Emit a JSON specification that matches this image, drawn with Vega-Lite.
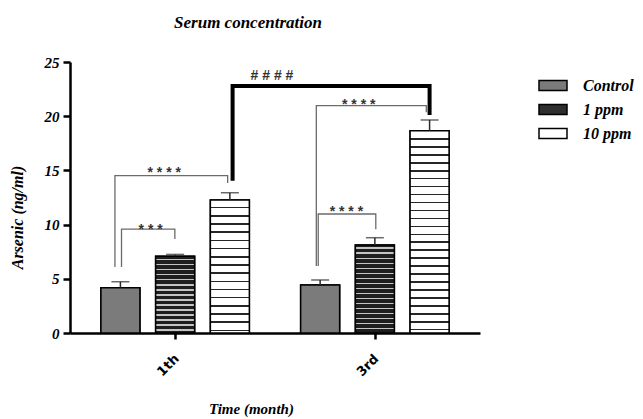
{
  "$schema": "https://vega.github.io/schema/vega-lite/v6.json",
  "width": 410,
  "height": 271,
  "autosize": {"type": "none"},
  "padding": {"left": 70, "top": 62, "right": 163, "bottom": 86},
  "background": "white",
  "title": {"text": "Serum concentration", "font": "Liberation Serif", "fontSize": 17, "fontWeight": "bold", "fontStyle": "italic", "color": "black", "anchor": "middle", "dx": -27, "offset": 10, "baseline": "alphabetic"},
  "config": {"view": {"stroke": null}, "axis": {"grid": false}},
  "datasets": {
    "bars": [
      {"time": "1th", "series": "Control", "pos": 1, "val": 4.18, "upper": 4.73},
      {"time": "1th", "series": "1 ppm", "pos": 2, "val": 7.08, "upper": 7.25},
      {"time": "1th", "series": "10 ppm", "pos": 3, "val": 12.27, "upper": 12.94},
      {"time": "3rd", "series": "Control", "pos": 4.65, "val": 4.43, "upper": 4.89},
      {"time": "3rd", "series": "1 ppm", "pos": 5.65, "val": 8.12, "upper": 8.79},
      {"time": "3rd", "series": "10 ppm", "pos": 6.65, "val": 18.66, "upper": 19.65}
    ],
    "brackets": [
      {"id": "A", "seq": 1, "pos": 1.02, "val": 6.09},
      {"id": "A", "seq": 2, "pos": 1.02, "val": 9.59},
      {"id": "A", "seq": 3, "pos": 1.995, "val": 9.59},
      {"id": "A", "seq": 4, "pos": 1.995, "val": 8.67},
      {"id": "B", "seq": 1, "pos": 0.9, "val": 6.09},
      {"id": "B", "seq": 2, "pos": 0.9, "val": 14.51},
      {"id": "B", "seq": 3, "pos": 2.96, "val": 14.51},
      {"id": "B", "seq": 4, "pos": 2.96, "val": 13.84},
      {"id": "C", "seq": 1, "pos": 4.615, "val": 6.18},
      {"id": "C", "seq": 2, "pos": 4.615, "val": 10.98},
      {"id": "C", "seq": 3, "pos": 5.667, "val": 10.98},
      {"id": "C", "seq": 4, "pos": 5.667, "val": 9.57},
      {"id": "D", "seq": 1, "pos": 4.58, "val": 6.18},
      {"id": "D", "seq": 2, "pos": 4.58, "val": 20.97},
      {"id": "D", "seq": 3, "pos": 6.59, "val": 20.97},
      {"id": "D", "seq": 4, "pos": 6.59, "val": 20.36},
      {"id": "E", "seq": 1, "pos": 3.05, "val": 14.05},
      {"id": "E", "seq": 2, "pos": 3.05, "val": 22.79},
      {"id": "E", "seq": 3, "pos": 6.65, "val": 22.79},
      {"id": "E", "seq": 4, "pos": 6.65, "val": 20.11}
    ],
    "labels": [
      {"label": "* * *", "pos": 1.553, "val": 9.12},
      {"label": "* * * *", "pos": 1.8, "val": 14.41},
      {"label": "* * * *", "pos": 5.13, "val": 10.75},
      {"label": "* * * *", "pos": 5.355, "val": 20.67},
      {"label": "# # # #", "pos": 3.77, "val": 23.36}
    ]
  },
  "layer": [
    {
      "data": {"name": "bars"},
      "mark": {"type": "bar", "size": 39, "stroke": "black", "strokeWidth": 1.5},
      "encoding": {
        "x": {"field": "pos", "type": "quantitative",
          "scale": {"domain": [0.17, 7.48], "nice": false, "zero": false},
          "axis": {"title": "Time (month)", "values": [2, 5.65], "labelExpr": "datum.value < 3 ? '1th' : '3rd'", "labelAngle": -45, "labelFont": "DejaVu Sans", "labelFontSize": 13, "labelFontWeight": "bold", "labelColor": "black", "labelPadding": 13, "labelOffset": -3, "tickSize": 6, "tickWidth": 2.5, "tickColor": "black", "domainWidth": 2.5, "domainColor": "black", "titleFont": "Liberation Serif", "titleFontSize": 15, "titleFontWeight": "bold", "titleFontStyle": "italic", "titleColor": "black", "titleX": 181, "titleY": 80, "titleBaseline": "alphabetic", "titleAlign": "center"}},
        "y": {"field": "val", "type": "quantitative",
          "scale": {"domain": [0, 25], "nice": false},
          "axis": {"title": "Arsenic (ng/ml)", "values": [0, 5, 10, 15, 20, 25], "domainColor": "black", "domainWidth": 2.5, "tickColor": "black", "tickWidth": 2.5, "tickSize": 7, "labelFont": "Liberation Serif", "labelFontSize": 15, "labelFontWeight": "bold", "labelFontStyle": "italic", "labelColor": "black", "labelPadding": 4, "titleFont": "Liberation Serif", "titleFontSize": 16, "titleFontWeight": "bold", "titleFontStyle": "italic", "titleColor": "black", "titleX": -53, "titleY": 155, "titleBaseline": "middle", "titleAlign": "center", "titleAngle": 270}},
        "fill": {"field": "series", "type": "nominal",
          "scale": {"domain": ["Control", "1 ppm", "10 ppm"], "range": ["#7b7b7b", "#2e2e2e", "#ffffff"]},
          "legend": {"orient": "none", "legendX": 468, "legendY": 8.5, "title": null, "padding": 0, "symbolType": "M-1,-0.36H1V0.36H-1Z", "symbolSize": 784, "symbolStrokeColor": "black", "symbolStrokeWidth": 1.5, "symbolOpacity": 1, "labelFont": "Liberation Serif", "labelFontSize": 16, "labelFontWeight": "bold", "labelFontStyle": "italic", "labelColor": "black", "labelOffset": 15, "rowPadding": -1,
            "encode": {"symbols": {"update": {
              "stroke": {"value": "black"},
              "strokeWidth": {"value": 1.5},
              "opacity": {"value": 1}
            }}}
          }}
      }
    },
    {
      "data": {"name": "bars"},
      "mark": {"type": "bar", "size": 39, "stroke": "black", "strokeWidth": 1.5},
      "encoding": {
        "x": {"field": "pos", "type": "quantitative"},
        "y": {"field": "val", "type": "quantitative"},
        "fill": {
          "condition": [
            {"test": "datum.series === '10 ppm' && datum.time === '1th'", "value": {"gradient": "linear", "x1": 0, "y1": 0, "x2": 0, "y2": 1, "stops": [
              {"offset": 0, "color": "#ffffff"},
              {"offset": 0.0518, "color": "#ffffff"}, {"offset": 0.0518, "color": "#262626"}, {"offset": 0.0638, "color": "#262626"}, {"offset": 0.0638, "color": "#ffffff"},
              {"offset": 0.1133, "color": "#ffffff"}, {"offset": 0.1133, "color": "#262626"}, {"offset": 0.1253, "color": "#262626"}, {"offset": 0.1253, "color": "#ffffff"},
              {"offset": 0.1748, "color": "#ffffff"}, {"offset": 0.1748, "color": "#262626"}, {"offset": 0.1868, "color": "#262626"}, {"offset": 0.1868, "color": "#ffffff"},
              {"offset": 0.2363, "color": "#ffffff"}, {"offset": 0.2363, "color": "#262626"}, {"offset": 0.2483, "color": "#262626"}, {"offset": 0.2483, "color": "#ffffff"},
              {"offset": 0.2978, "color": "#ffffff"}, {"offset": 0.2978, "color": "#262626"}, {"offset": 0.3098, "color": "#262626"}, {"offset": 0.3098, "color": "#ffffff"},
              {"offset": 0.3593, "color": "#ffffff"}, {"offset": 0.3593, "color": "#262626"}, {"offset": 0.3713, "color": "#262626"}, {"offset": 0.3713, "color": "#ffffff"},
              {"offset": 0.4209, "color": "#ffffff"}, {"offset": 0.4209, "color": "#262626"}, {"offset": 0.4329, "color": "#262626"}, {"offset": 0.4329, "color": "#ffffff"},
              {"offset": 0.4824, "color": "#ffffff"}, {"offset": 0.4824, "color": "#262626"}, {"offset": 0.4944, "color": "#262626"}, {"offset": 0.4944, "color": "#ffffff"},
              {"offset": 0.5439, "color": "#ffffff"}, {"offset": 0.5439, "color": "#262626"}, {"offset": 0.5559, "color": "#262626"}, {"offset": 0.5559, "color": "#ffffff"},
              {"offset": 0.6054, "color": "#ffffff"}, {"offset": 0.6054, "color": "#262626"}, {"offset": 0.6174, "color": "#262626"}, {"offset": 0.6174, "color": "#ffffff"},
              {"offset": 0.6669, "color": "#ffffff"}, {"offset": 0.6669, "color": "#262626"}, {"offset": 0.6789, "color": "#262626"}, {"offset": 0.6789, "color": "#ffffff"},
              {"offset": 0.7284, "color": "#ffffff"}, {"offset": 0.7284, "color": "#262626"}, {"offset": 0.7404, "color": "#262626"}, {"offset": 0.7404, "color": "#ffffff"},
              {"offset": 0.7899, "color": "#ffffff"}, {"offset": 0.7899, "color": "#262626"}, {"offset": 0.802, "color": "#262626"}, {"offset": 0.802, "color": "#ffffff"},
              {"offset": 0.8515, "color": "#ffffff"}, {"offset": 0.8515, "color": "#262626"}, {"offset": 0.8635, "color": "#262626"}, {"offset": 0.8635, "color": "#ffffff"},
              {"offset": 0.913, "color": "#ffffff"}, {"offset": 0.913, "color": "#262626"}, {"offset": 0.925, "color": "#262626"}, {"offset": 0.925, "color": "#ffffff"},
              {"offset": 0.9745, "color": "#ffffff"}, {"offset": 0.9745, "color": "#262626"}, {"offset": 0.9865, "color": "#262626"}, {"offset": 0.9865, "color": "#ffffff"},
              {"offset": 1, "color": "#ffffff"}
            ]}},
            {"test": "datum.series === '10 ppm' && datum.time === '3rd'", "value": {"gradient": "linear", "x1": 0, "y1": 0, "x2": 0, "y2": 1, "stops": [
              {"offset": 0, "color": "#ffffff"},
              {"offset": 0.0366, "color": "#ffffff"}, {"offset": 0.0366, "color": "#262626"}, {"offset": 0.0445, "color": "#262626"}, {"offset": 0.0445, "color": "#ffffff"},
              {"offset": 0.0759, "color": "#ffffff"}, {"offset": 0.0759, "color": "#262626"}, {"offset": 0.0838, "color": "#262626"}, {"offset": 0.0838, "color": "#ffffff"},
              {"offset": 0.1152, "color": "#ffffff"}, {"offset": 0.1152, "color": "#262626"}, {"offset": 0.1231, "color": "#262626"}, {"offset": 0.1231, "color": "#ffffff"},
              {"offset": 0.1545, "color": "#ffffff"}, {"offset": 0.1545, "color": "#262626"}, {"offset": 0.1624, "color": "#262626"}, {"offset": 0.1624, "color": "#ffffff"},
              {"offset": 0.1938, "color": "#ffffff"}, {"offset": 0.1938, "color": "#262626"}, {"offset": 0.2017, "color": "#262626"}, {"offset": 0.2017, "color": "#ffffff"},
              {"offset": 0.2331, "color": "#ffffff"}, {"offset": 0.2331, "color": "#262626"}, {"offset": 0.241, "color": "#262626"}, {"offset": 0.241, "color": "#ffffff"},
              {"offset": 0.2724, "color": "#ffffff"}, {"offset": 0.2724, "color": "#262626"}, {"offset": 0.2803, "color": "#262626"}, {"offset": 0.2803, "color": "#ffffff"},
              {"offset": 0.3117, "color": "#ffffff"}, {"offset": 0.3117, "color": "#262626"}, {"offset": 0.3196, "color": "#262626"}, {"offset": 0.3196, "color": "#ffffff"},
              {"offset": 0.351, "color": "#ffffff"}, {"offset": 0.351, "color": "#262626"}, {"offset": 0.3589, "color": "#262626"}, {"offset": 0.3589, "color": "#ffffff"},
              {"offset": 0.3903, "color": "#ffffff"}, {"offset": 0.3903, "color": "#262626"}, {"offset": 0.3982, "color": "#262626"}, {"offset": 0.3982, "color": "#ffffff"},
              {"offset": 0.4296, "color": "#ffffff"}, {"offset": 0.4296, "color": "#262626"}, {"offset": 0.4375, "color": "#262626"}, {"offset": 0.4375, "color": "#ffffff"},
              {"offset": 0.4689, "color": "#ffffff"}, {"offset": 0.4689, "color": "#262626"}, {"offset": 0.4768, "color": "#262626"}, {"offset": 0.4768, "color": "#ffffff"},
              {"offset": 0.5082, "color": "#ffffff"}, {"offset": 0.5082, "color": "#262626"}, {"offset": 0.5161, "color": "#262626"}, {"offset": 0.5161, "color": "#ffffff"},
              {"offset": 0.5475, "color": "#ffffff"}, {"offset": 0.5475, "color": "#262626"}, {"offset": 0.5554, "color": "#262626"}, {"offset": 0.5554, "color": "#ffffff"},
              {"offset": 0.5868, "color": "#ffffff"}, {"offset": 0.5868, "color": "#262626"}, {"offset": 0.5947, "color": "#262626"}, {"offset": 0.5947, "color": "#ffffff"},
              {"offset": 0.6261, "color": "#ffffff"}, {"offset": 0.6261, "color": "#262626"}, {"offset": 0.634, "color": "#262626"}, {"offset": 0.634, "color": "#ffffff"},
              {"offset": 0.6654, "color": "#ffffff"}, {"offset": 0.6654, "color": "#262626"}, {"offset": 0.6733, "color": "#262626"}, {"offset": 0.6733, "color": "#ffffff"},
              {"offset": 0.7046, "color": "#ffffff"}, {"offset": 0.7046, "color": "#262626"}, {"offset": 0.7126, "color": "#262626"}, {"offset": 0.7126, "color": "#ffffff"},
              {"offset": 0.744, "color": "#ffffff"}, {"offset": 0.744, "color": "#262626"}, {"offset": 0.7519, "color": "#262626"}, {"offset": 0.7519, "color": "#ffffff"},
              {"offset": 0.7832, "color": "#ffffff"}, {"offset": 0.7832, "color": "#262626"}, {"offset": 0.7912, "color": "#262626"}, {"offset": 0.7912, "color": "#ffffff"},
              {"offset": 0.8225, "color": "#ffffff"}, {"offset": 0.8225, "color": "#262626"}, {"offset": 0.8305, "color": "#262626"}, {"offset": 0.8305, "color": "#ffffff"},
              {"offset": 0.8618, "color": "#ffffff"}, {"offset": 0.8618, "color": "#262626"}, {"offset": 0.8698, "color": "#262626"}, {"offset": 0.8698, "color": "#ffffff"},
              {"offset": 0.9011, "color": "#ffffff"}, {"offset": 0.9011, "color": "#262626"}, {"offset": 0.909, "color": "#262626"}, {"offset": 0.909, "color": "#ffffff"},
              {"offset": 0.9404, "color": "#ffffff"}, {"offset": 0.9404, "color": "#262626"}, {"offset": 0.9484, "color": "#262626"}, {"offset": 0.9484, "color": "#ffffff"},
              {"offset": 0.9797, "color": "#ffffff"}, {"offset": 0.9797, "color": "#262626"}, {"offset": 0.9876, "color": "#262626"}, {"offset": 0.9876, "color": "#ffffff"},
              {"offset": 1, "color": "#ffffff"}
            ]}},
            {"test": "datum.series === '1 ppm' && datum.time === '1th'", "value": {"gradient": "linear", "x1": 0, "y1": 0, "x2": 0, "y2": 1, "stops": [
              {"offset": 0, "color": "#1e1e1e"},
              {"offset": 0.0328, "color": "#1e1e1e"}, {"offset": 0.0328, "color": "#c4c4c4"}, {"offset": 0.0537, "color": "#c4c4c4"}, {"offset": 0.0537, "color": "#1e1e1e"},
              {"offset": 0.0983, "color": "#1e1e1e"}, {"offset": 0.0983, "color": "#c4c4c4"}, {"offset": 0.1193, "color": "#c4c4c4"}, {"offset": 0.1193, "color": "#1e1e1e"},
              {"offset": 0.1638, "color": "#1e1e1e"}, {"offset": 0.1638, "color": "#c4c4c4"}, {"offset": 0.1848, "color": "#c4c4c4"}, {"offset": 0.1848, "color": "#1e1e1e"},
              {"offset": 0.2294, "color": "#1e1e1e"}, {"offset": 0.2294, "color": "#c4c4c4"}, {"offset": 0.2503, "color": "#c4c4c4"}, {"offset": 0.2503, "color": "#1e1e1e"},
              {"offset": 0.2949, "color": "#1e1e1e"}, {"offset": 0.2949, "color": "#c4c4c4"}, {"offset": 0.3159, "color": "#c4c4c4"}, {"offset": 0.3159, "color": "#1e1e1e"},
              {"offset": 0.3604, "color": "#1e1e1e"}, {"offset": 0.3604, "color": "#c4c4c4"}, {"offset": 0.3814, "color": "#c4c4c4"}, {"offset": 0.3814, "color": "#1e1e1e"},
              {"offset": 0.4259, "color": "#1e1e1e"}, {"offset": 0.4259, "color": "#c4c4c4"}, {"offset": 0.4469, "color": "#c4c4c4"}, {"offset": 0.4469, "color": "#1e1e1e"},
              {"offset": 0.4915, "color": "#1e1e1e"}, {"offset": 0.4915, "color": "#c4c4c4"}, {"offset": 0.5125, "color": "#c4c4c4"}, {"offset": 0.5125, "color": "#1e1e1e"},
              {"offset": 0.557, "color": "#1e1e1e"}, {"offset": 0.557, "color": "#c4c4c4"}, {"offset": 0.578, "color": "#c4c4c4"}, {"offset": 0.578, "color": "#1e1e1e"},
              {"offset": 0.6225, "color": "#1e1e1e"}, {"offset": 0.6225, "color": "#c4c4c4"}, {"offset": 0.6435, "color": "#c4c4c4"}, {"offset": 0.6435, "color": "#1e1e1e"},
              {"offset": 0.6881, "color": "#1e1e1e"}, {"offset": 0.6881, "color": "#c4c4c4"}, {"offset": 0.709, "color": "#c4c4c4"}, {"offset": 0.709, "color": "#1e1e1e"},
              {"offset": 0.7536, "color": "#1e1e1e"}, {"offset": 0.7536, "color": "#c4c4c4"}, {"offset": 0.7746, "color": "#c4c4c4"}, {"offset": 0.7746, "color": "#1e1e1e"},
              {"offset": 0.8191, "color": "#1e1e1e"}, {"offset": 0.8191, "color": "#c4c4c4"}, {"offset": 0.8401, "color": "#c4c4c4"}, {"offset": 0.8401, "color": "#1e1e1e"},
              {"offset": 0.8847, "color": "#1e1e1e"}, {"offset": 0.8847, "color": "#c4c4c4"}, {"offset": 0.9056, "color": "#c4c4c4"}, {"offset": 0.9056, "color": "#1e1e1e"},
              {"offset": 0.9502, "color": "#1e1e1e"}, {"offset": 0.9502, "color": "#c4c4c4"}, {"offset": 0.9712, "color": "#c4c4c4"}, {"offset": 0.9712, "color": "#1e1e1e"},
              {"offset": 1, "color": "#1e1e1e"}
            ]}},
            {"test": "datum.series === '1 ppm' && datum.time === '3rd'", "value": {"gradient": "linear", "x1": 0, "y1": 0, "x2": 0, "y2": 1, "stops": [
              {"offset": 0, "color": "#1e1e1e"},
              {"offset": 0.0285, "color": "#1e1e1e"}, {"offset": 0.0285, "color": "#c4c4c4"}, {"offset": 0.0467, "color": "#c4c4c4"}, {"offset": 0.0467, "color": "#1e1e1e"},
              {"offset": 0.0854, "color": "#1e1e1e"}, {"offset": 0.0854, "color": "#c4c4c4"}, {"offset": 0.1036, "color": "#c4c4c4"}, {"offset": 0.1036, "color": "#1e1e1e"},
              {"offset": 0.1424, "color": "#1e1e1e"}, {"offset": 0.1424, "color": "#c4c4c4"}, {"offset": 0.1606, "color": "#c4c4c4"}, {"offset": 0.1606, "color": "#1e1e1e"},
              {"offset": 0.1993, "color": "#1e1e1e"}, {"offset": 0.1993, "color": "#c4c4c4"}, {"offset": 0.2175, "color": "#c4c4c4"}, {"offset": 0.2175, "color": "#1e1e1e"},
              {"offset": 0.2563, "color": "#1e1e1e"}, {"offset": 0.2563, "color": "#c4c4c4"}, {"offset": 0.2745, "color": "#c4c4c4"}, {"offset": 0.2745, "color": "#1e1e1e"},
              {"offset": 0.3132, "color": "#1e1e1e"}, {"offset": 0.3132, "color": "#c4c4c4"}, {"offset": 0.3314, "color": "#c4c4c4"}, {"offset": 0.3314, "color": "#1e1e1e"},
              {"offset": 0.3702, "color": "#1e1e1e"}, {"offset": 0.3702, "color": "#c4c4c4"}, {"offset": 0.3884, "color": "#c4c4c4"}, {"offset": 0.3884, "color": "#1e1e1e"},
              {"offset": 0.4271, "color": "#1e1e1e"}, {"offset": 0.4271, "color": "#c4c4c4"}, {"offset": 0.4453, "color": "#c4c4c4"}, {"offset": 0.4453, "color": "#1e1e1e"},
              {"offset": 0.4841, "color": "#1e1e1e"}, {"offset": 0.4841, "color": "#c4c4c4"}, {"offset": 0.5023, "color": "#c4c4c4"}, {"offset": 0.5023, "color": "#1e1e1e"},
              {"offset": 0.541, "color": "#1e1e1e"}, {"offset": 0.541, "color": "#c4c4c4"}, {"offset": 0.5592, "color": "#c4c4c4"}, {"offset": 0.5592, "color": "#1e1e1e"},
              {"offset": 0.5979, "color": "#1e1e1e"}, {"offset": 0.5979, "color": "#c4c4c4"}, {"offset": 0.6162, "color": "#c4c4c4"}, {"offset": 0.6162, "color": "#1e1e1e"},
              {"offset": 0.6549, "color": "#1e1e1e"}, {"offset": 0.6549, "color": "#c4c4c4"}, {"offset": 0.6731, "color": "#c4c4c4"}, {"offset": 0.6731, "color": "#1e1e1e"},
              {"offset": 0.7118, "color": "#1e1e1e"}, {"offset": 0.7118, "color": "#c4c4c4"}, {"offset": 0.7301, "color": "#c4c4c4"}, {"offset": 0.7301, "color": "#1e1e1e"},
              {"offset": 0.7688, "color": "#1e1e1e"}, {"offset": 0.7688, "color": "#c4c4c4"}, {"offset": 0.787, "color": "#c4c4c4"}, {"offset": 0.787, "color": "#1e1e1e"},
              {"offset": 0.8257, "color": "#1e1e1e"}, {"offset": 0.8257, "color": "#c4c4c4"}, {"offset": 0.844, "color": "#c4c4c4"}, {"offset": 0.844, "color": "#1e1e1e"},
              {"offset": 0.8827, "color": "#1e1e1e"}, {"offset": 0.8827, "color": "#c4c4c4"}, {"offset": 0.9009, "color": "#c4c4c4"}, {"offset": 0.9009, "color": "#1e1e1e"},
              {"offset": 0.9396, "color": "#1e1e1e"}, {"offset": 0.9396, "color": "#c4c4c4"}, {"offset": 0.9579, "color": "#c4c4c4"}, {"offset": 0.9579, "color": "#1e1e1e"},
              {"offset": 1, "color": "#1e1e1e"}
            ]}}
          ],
          "value": "#7b7b7b"
        }
      }
    },
    {
      "data": {"name": "bars"},
      "mark": {"type": "rule", "color": "#2a2a2a", "strokeWidth": 1.5},
      "encoding": {
        "x": {"field": "pos", "type": "quantitative"},
        "y": {"field": "val", "type": "quantitative"},
        "y2": {"field": "upper"}
      }
    },
    {
      "data": {"name": "bars"},
      "mark": {"type": "tick", "orient": "horizontal", "color": "#2a2a2a", "size": 18, "thickness": 1.5},
      "encoding": {
        "x": {"field": "pos", "type": "quantitative"},
        "y": {"field": "upper", "type": "quantitative"}
      }
    },
    {
      "data": {"name": "brackets"},
      "transform": [{"filter": "datum.id !== 'E'"}],
      "mark": {"type": "line", "color": "#6b6b6b", "strokeWidth": 1.3},
      "encoding": {
        "x": {"field": "pos", "type": "quantitative"},
        "y": {"field": "val", "type": "quantitative"},
        "detail": {"field": "id"},
        "order": {"field": "seq", "type": "quantitative"}
      }
    },
    {
      "data": {"name": "brackets"},
      "transform": [{"filter": "datum.id === 'E'"}],
      "mark": {"type": "line", "color": "black", "strokeWidth": 4, "strokeJoin": "miter", "strokeCap": "butt"},
      "encoding": {
        "x": {"field": "pos", "type": "quantitative"},
        "y": {"field": "val", "type": "quantitative"},
        "detail": {"field": "id"},
        "order": {"field": "seq", "type": "quantitative"}
      }
    },
    {
      "data": {"name": "labels"},
      "mark": {"type": "text", "font": "Liberation Sans", "fontSize": 14, "fontWeight": "bold", "color": "#333333", "align": "center", "baseline": "alphabetic"},
      "encoding": {
        "x": {"field": "pos", "type": "quantitative"},
        "y": {"field": "val", "type": "quantitative"},
        "text": {"field": "label"}
      }
    }
  ]
}
